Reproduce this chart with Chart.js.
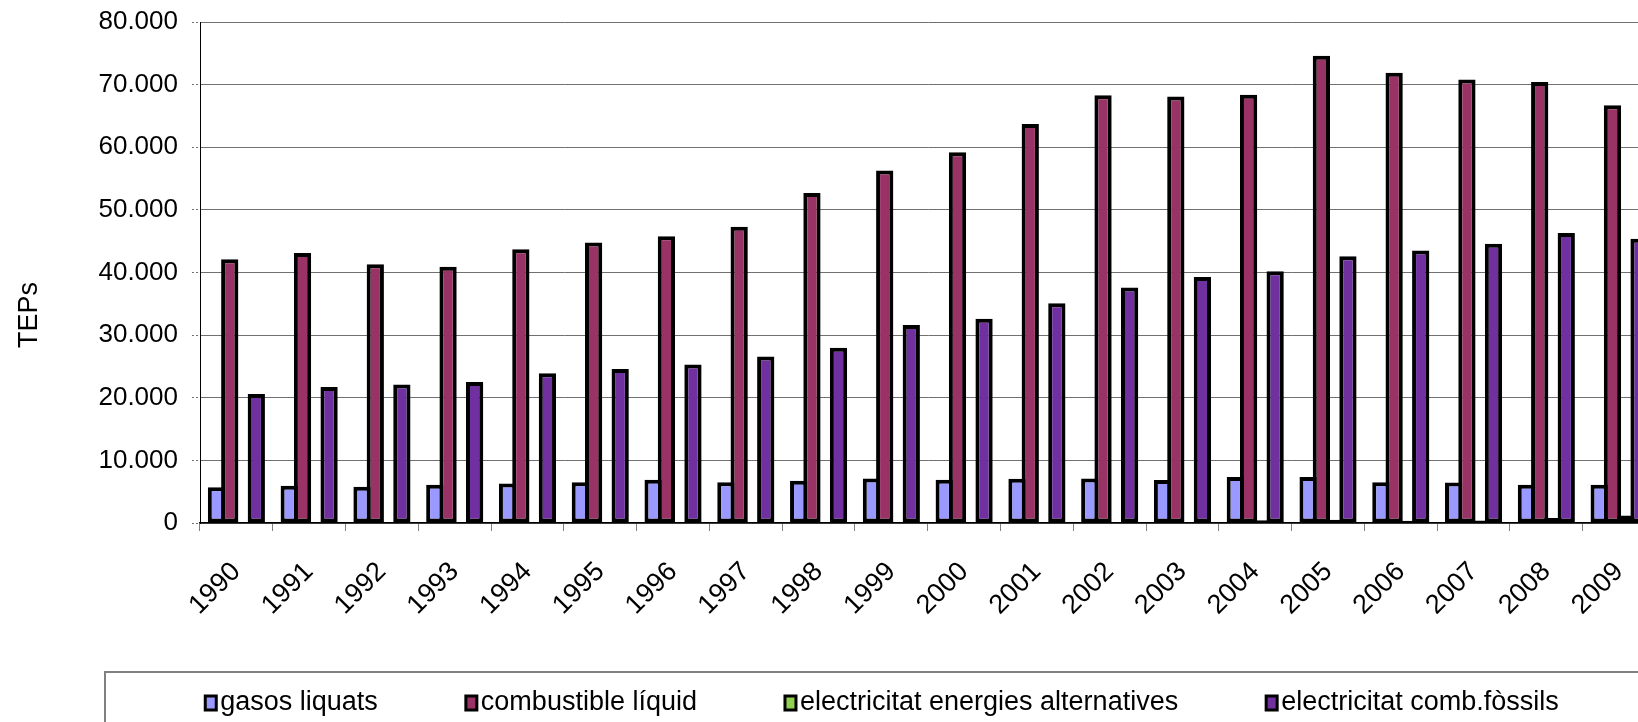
<!DOCTYPE html>
<html>
<head>
<meta charset="utf-8">
<script src="https://cdn.jsdelivr.net/npm/chart.js@4.4.1/dist/chart.umd.min.js"></script>
<style>
  html, body { margin: 0; padding: 0; background: #fff; overflow: hidden; }
  #wrap { width: 1764px; height: 722px; }
</style>
</head>
<body>
<div id="wrap"><canvas id="chart" width="1764" height="722"></canvas></div>
<script>
// TEPs per year
const years = ['1990', '1991', '1992', '1993', '1994', '1995', '1996', '1997', '1998', '1999',
               '2000', '2001', '2002', '2003', '2004', '2005', '2006', '2007', '2008', '2009'];
const gasosLiquats = [5700, 5950, 5800, 6100, 6300, 6500, 6900, 6500, 6750, 7100,
                      6900, 7050, 7100, 6850, 7350, 7350, 6500, 6450, 6100, 6100];
const combustibleLiquid = [42100, 43100, 41300, 40900, 43700, 44800, 45800, 47300, 52700, 56300,
                           59200, 63700, 68300, 68100, 68400, 74600, 71900, 70800, 70400, 66700];
const elecAlternatives = [0, 0, 0, 0, 0, 0, 0, 0, 0, 0,
                          0, 0, 80, 80, 450, 500, 350, 400, 800, 1200];
const elecFossils = [20600, 21700, 22100, 22500, 23900, 24600, 25300, 26600, 28000, 31600,
                     32600, 35100, 37600, 39300, 40200, 42600, 43500, 44600, 46300, 45400];
const yTicks = [0, 10000, 20000, 30000, 40000, 50000, 60000, 70000, 80000];

const fmt = v => String(v).replace(/\B(?=(\d{3})+(?!\d))/g, '.');
const FONT = '"Liberation Sans", Arial, sans-serif';

// y axis title, sits a bit below the middle like the original
const yTitle = {
  id: 'yTitle',
  afterDraw(chart) {
    const {ctx, chartArea} = chart;
    ctx.save();
    ctx.translate(30, chartArea.top + (chartArea.bottom - chartArea.top) * 0.585);
    ctx.rotate(-Math.PI / 2);
    ctx.font = '27px ' + FONT;
    ctx.fillStyle = '#000';
    ctx.textAlign = 'center';
    ctx.textBaseline = 'middle';
    ctx.fillText('TEPs', 0, 0);
    ctx.restore();
  }
};

// boxed legend under the axis (Chart.js legend can't space items like Excel does)
const boxLegend = {
  id: 'boxLegend',
  afterDraw(chart) {
    const ctx = chart.ctx;
    const sets = chart.data.datasets;
    const midY = 703, gap = 88, box = 11, boxGap = 4;
    ctx.save();
    ctx.strokeStyle = '#808080';
    ctx.lineWidth = 2;
    ctx.strokeRect(105, midY - 31, chart.width - 210, 100);

    ctx.font = '27px ' + FONT;
    const widths = sets.map(ds => box + boxGap + ctx.measureText(ds.label).width);
    const total = widths.reduce((a, b) => a + b, 0) + gap * (sets.length - 1);
    let x = chart.width / 2 - total / 2;
    ctx.textBaseline = 'middle';
    ctx.textAlign = 'left';
    sets.forEach((ds, i) => {
      ctx.fillStyle = ds.backgroundColor;
      ctx.fillRect(x, midY - 7, box, 14);
      ctx.strokeStyle = '#000';
      ctx.lineWidth = 3;
      ctx.strokeRect(x, midY - 7, box, 14);
      ctx.fillStyle = '#000';
      ctx.fillText(ds.label, x + box + boxGap, midY);
      x += widths[i] + gap;
    });
    ctx.restore();
  }
};

const barBase = {
  borderColor: '#000',
  borderWidth: 4,
  borderSkipped: false,
  categoryPercentage: 0.73,
  barPercentage: 1.3
};

new Chart(document.getElementById('chart'), {
  type: 'bar',
  data: {
    labels: years,
    datasets: [
      Object.assign({label: 'gasos liquats', data: gasosLiquats, backgroundColor: '#9999FF'}, barBase),
      Object.assign({label: 'combustible líquid', data: combustibleLiquid, backgroundColor: '#993366'}, barBase),
      Object.assign({label: 'electricitat energies alternatives', data: elecAlternatives, backgroundColor: '#92D050'}, barBase),
      Object.assign({label: 'electricitat comb.fòssils', data: elecFossils, backgroundColor: '#7030A0'}, barBase)
    ]
  },
  options: {
    responsive: false,
    animation: false,
    layout: { padding: { top: 22, bottom: 0, left: 0, right: 0 } },
    plugins: {
      tooltip: { enabled: false },
      legend: { display: false }
    },
    scales: {
      x: {
        afterFit(scale) { scale.height = 199; },
        grid: {
          display: true,
          drawOnChartArea: false,
          drawTicks: true,
          tickLength: 8,
          tickColor: '#808080',
          offset: true
        },
        border: { display: true, color: '#000', width: 1.5 },
        ticks: {
          color: '#000',
          font: { family: FONT, size: 27 },
          maxRotation: 45,
          minRotation: 45,
          autoSkip: false,
          padding: 25
        }
      },
      y: {
        min: 0,
        max: 80000,
        afterFit(scale) {
          scale.width = 200;
          scale.paddingTop = 0;
          scale.paddingBottom = 0;
        },
        afterBuildTicks(scale) { scale.ticks = yTicks.map(v => ({value: v})); },
        grid: {
          color: '#707070',
          lineWidth: 1,
          borderDash: [2, 2],
          tickBorderDash: [2, 2],
          tickColor: '#707070',
          tickLength: 8
        },
        border: { display: true, color: '#000', width: 1 },
        ticks: {
          color: '#000',
          font: { family: FONT, size: 26 },
          padding: 14,
          callback: v => fmt(v)
        }
      },
      spare: {
        type: 'linear',
        position: 'right',
        afterFit(scale) { scale.width = 108.5; },
        grid: { display: false },
        border: { display: false },
        ticks: { display: false }
      }
    }
  },
  plugins: [yTitle, boxLegend]
});
</script>
</body>
</html>
